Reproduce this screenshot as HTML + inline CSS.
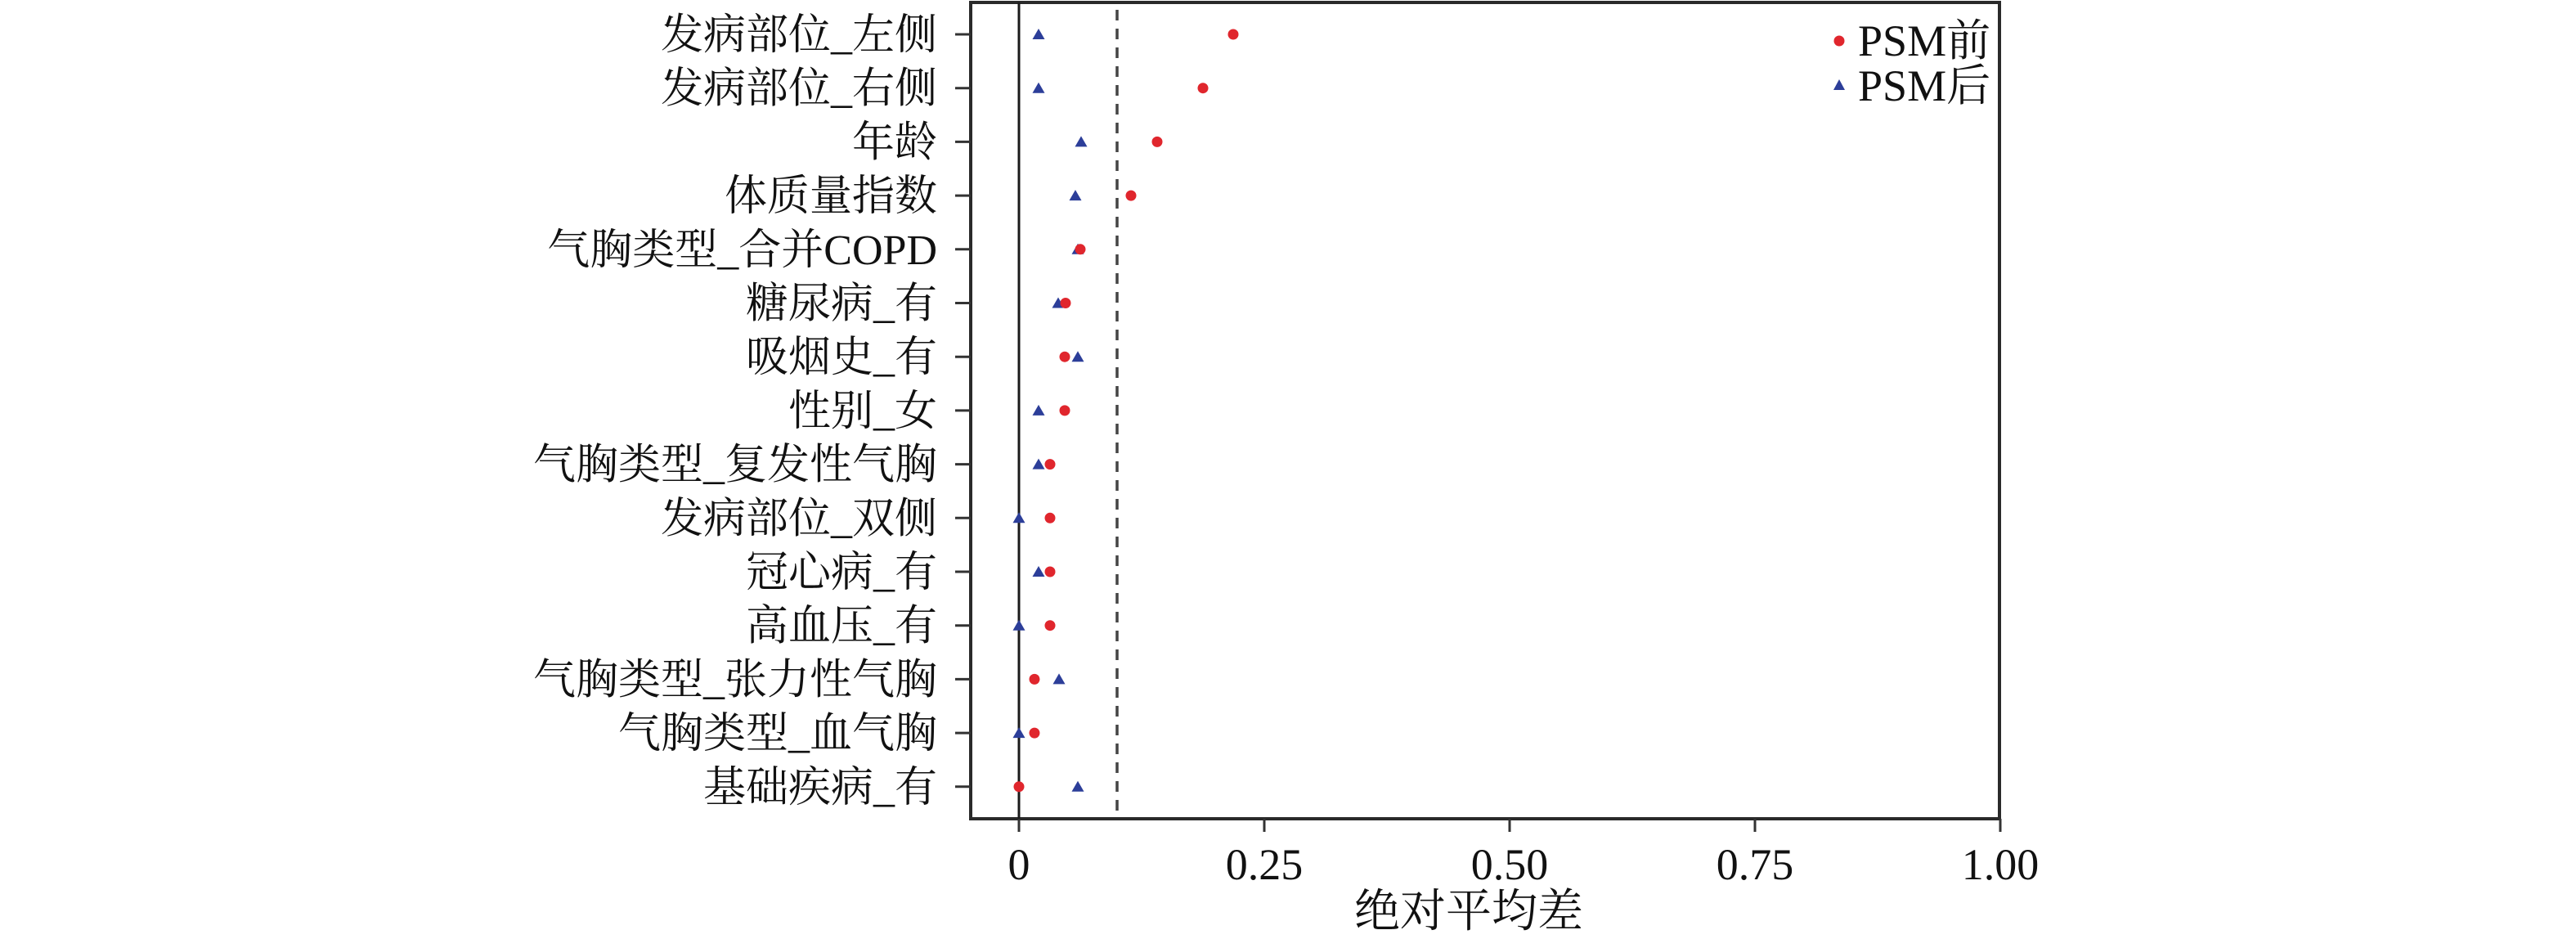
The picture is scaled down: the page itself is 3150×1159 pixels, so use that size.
<!DOCTYPE html>
<html><head><meta charset="utf-8"><style>body{margin:0;background:#fff}svg{display:block}</style></head>
<body>
<svg width="3150" height="1159" viewBox="0 0 3150 1159" xmlns="http://www.w3.org/2000/svg" font-family="'Liberation Serif','Noto Serif CJK SC',serif">
<rect x="1187" y="3" width="1258" height="998" fill="none" stroke="#2a2a2a" stroke-width="4"/>
<line x1="1246" y1="3" x2="1246" y2="1001" stroke="#1a1a1a" stroke-width="3"/>
<line x1="1366" y1="12" x2="1366" y2="1001" stroke="#444" stroke-width="3.5" stroke-dasharray="13,10"/>
<g stroke="#333" stroke-width="3">
<line x1="1246" y1="1001" x2="1246" y2="1017"/><line x1="1546" y1="1001" x2="1546" y2="1017"/><line x1="1846" y1="1001" x2="1846" y2="1017"/><line x1="2146" y1="1001" x2="2146" y2="1017"/><line x1="2446" y1="1001" x2="2446" y2="1017"/>
<line x1="1168" y1="42" x2="1187" y2="42"/><line x1="1168" y1="107.7" x2="1187" y2="107.7"/><line x1="1168" y1="173.4" x2="1187" y2="173.4"/><line x1="1168" y1="239.1" x2="1187" y2="239.1"/><line x1="1168" y1="304.8" x2="1187" y2="304.8"/><line x1="1168" y1="370.5" x2="1187" y2="370.5"/><line x1="1168" y1="436.2" x2="1187" y2="436.2"/><line x1="1168" y1="501.9" x2="1187" y2="501.9"/><line x1="1168" y1="567.6" x2="1187" y2="567.6"/><line x1="1168" y1="633.3" x2="1187" y2="633.3"/><line x1="1168" y1="699" x2="1187" y2="699"/><line x1="1168" y1="764.7" x2="1187" y2="764.7"/><line x1="1168" y1="830.4" x2="1187" y2="830.4"/><line x1="1168" y1="896.1" x2="1187" y2="896.1"/><line x1="1168" y1="961.8" x2="1187" y2="961.8"/>
</g>
<g font-size="54" text-anchor="middle" fill="#111">
<text x="1246" y="1075">0</text><text x="1546" y="1075">0.25</text><text x="1846" y="1075">0.50</text><text x="2146" y="1075">0.75</text><text x="2446" y="1075">1.00</text>
</g>
<text x="1796" y="1133" font-size="56" text-anchor="middle" fill="#111">绝对平均差</text>
<g font-size="52" text-anchor="end" fill="#111">
<text x="1146" y="60">发病部位_左侧</text>
<text x="1146" y="125.7">发病部位_右侧</text>
<text x="1146" y="191.4">年龄</text>
<text x="1146" y="257.1">体质量指数</text>
<text x="1146" y="322.8">气胸类型_合并COPD</text>
<text x="1146" y="388.5">糖尿病_有</text>
<text x="1146" y="454.2">吸烟史_有</text>
<text x="1146" y="519.9">性别_女</text>
<text x="1146" y="585.6">气胸类型_复发性气胸</text>
<text x="1146" y="651.3">发病部位_双侧</text>
<text x="1146" y="717">冠心病_有</text>
<text x="1146" y="782.7">高血压_有</text>
<text x="1146" y="848.4">气胸类型_张力性气胸</text>
<text x="1146" y="914.1">气胸类型_血气胸</text>
<text x="1146" y="979.8">基础疾病_有</text>
</g>
<g fill="#2c3e99">
<polygon points="1270,35 1277.5,48 1262.5,48"/>
<polygon points="1270,100.7 1277.5,113.7 1262.5,113.7"/>
<polygon points="1322,166.4 1329.5,179.4 1314.5,179.4"/>
<polygon points="1315,232.1 1322.5,245.1 1307.5,245.1"/>
<polygon points="1318,297.8 1325.5,310.8 1310.5,310.8"/>
<polygon points="1294,363.5 1301.5,376.5 1286.5,376.5"/>
<polygon points="1318,429.2 1325.5,442.2 1310.5,442.2"/>
<polygon points="1270,494.9 1277.5,507.9 1262.5,507.9"/>
<polygon points="1270,560.6 1277.5,573.6 1262.5,573.6"/>
<polygon points="1246,626.3 1253.5,639.3 1238.5,639.3"/>
<polygon points="1270,692 1277.5,705 1262.5,705"/>
<polygon points="1246,757.7 1253.5,770.7 1238.5,770.7"/>
<polygon points="1295,823.4 1302.5,836.4 1287.5,836.4"/>
<polygon points="1246,889.1 1253.5,902.1 1238.5,902.1"/>
<polygon points="1318,954.8 1325.5,967.8 1310.5,967.8"/>
</g>
<g fill="#e0262d">
<circle cx="1508" cy="42" r="6.5"/>
<circle cx="1471" cy="107.7" r="6.5"/>
<circle cx="1415" cy="173.4" r="6.5"/>
<circle cx="1383" cy="239.1" r="6.5"/>
<circle cx="1321" cy="304.8" r="6.5"/>
<circle cx="1303" cy="370.5" r="6.5"/>
<circle cx="1302" cy="436.2" r="6.5"/>
<circle cx="1302" cy="501.9" r="6.5"/>
<circle cx="1284" cy="567.6" r="6.5"/>
<circle cx="1284" cy="633.3" r="6.5"/>
<circle cx="1284" cy="699" r="6.5"/>
<circle cx="1284" cy="764.7" r="6.5"/>
<circle cx="1265" cy="830.4" r="6.5"/>
<circle cx="1265" cy="896.1" r="6.5"/>
<circle cx="1246" cy="961.8" r="6.5"/>
</g>
<circle cx="2249" cy="50" r="6.5" fill="#e0262d"/>
<polygon points="2249,97 2256,110 2242,110" fill="#2c3e99"/>
<text x="2272" y="68" font-size="54" fill="#111">PSM前</text>
<text x="2272" y="123" font-size="54" fill="#111">PSM后</text>
</svg>
</body></html>
